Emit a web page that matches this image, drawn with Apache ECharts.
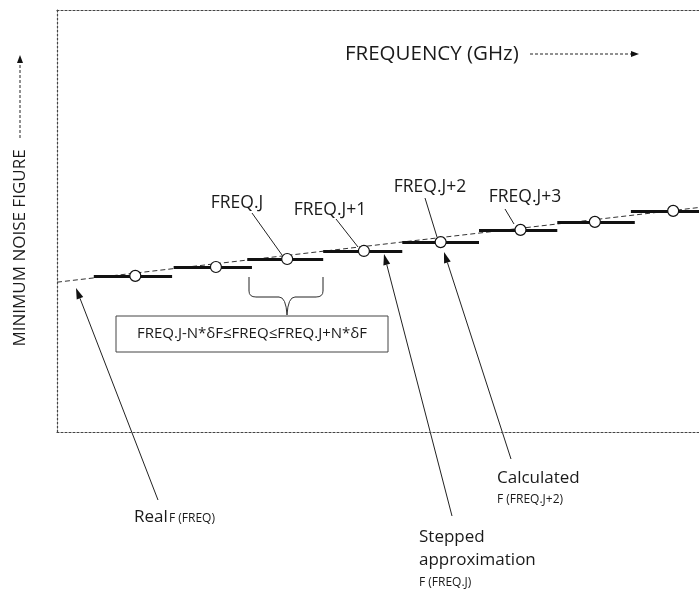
<!DOCTYPE html>
<html><head><meta charset="utf-8">
<script src="https://cdn.jsdelivr.net/npm/echarts@6/dist/echarts.min.js"></script>
<style>html,body{margin:0;padding:0;background:#fff;overflow:hidden}#c{width:699px;height:589px}</style>
</head><body><div id="c"></div>
<script>
// Stepped approximation: centre frequency of each step (index units) and its noise figure value
const stepCenters = [1.00, 2.03, 2.94, 3.92, 4.90, 5.92, 6.87, 7.87];
const stepValues  = [3.70, 3.91, 4.10, 4.29, 4.50, 4.79, 4.98, 5.24];
const stepStarts  = [0.47, 1.49, 2.43, 3.40, 4.41, 5.39, 6.39, 7.33];
const stepEnds    = [1.47, 2.49, 3.40, 4.41, 5.39, 6.39, 7.38, 8.30];
// Real F(FREQ) dashed line
const realFreq   = [0.00, 8.20];
const realValues = [3.55, 5.32];

const FONT = 'Open Sans';
const chart = echarts.init(document.getElementById('c'), null, {renderer: 'canvas'});

const stepLines = stepStarts.map((s, i) => ({coords: [[s, stepValues[i]], [stepEnds[i], stepValues[i]]]}));

function arrow(x1, y1, x2, y2, opts) {
  opts = opts || {};
  const len = opts.head || 9, w = opts.w || 3.5;
  const dx = x2 - x1, dy = y2 - y1, L = Math.hypot(dx, dy);
  const ux = dx / L, uy = dy / L;
  const bx = x2 - ux * len, by = y2 - uy * len;
  return [{
    type: 'line', silent: true,
    shape: {x1: x1, y1: y1, x2: bx, y2: by},
    style: {stroke: '#222', lineWidth: opts.lw || 1, lineDash: opts.dash || null}
  }, {
    type: 'polygon', silent: true,
    shape: {points: [[x2, y2], [bx - uy * w, by + ux * w], [bx + uy * w, by - ux * w]]},
    style: {fill: '#111'}
  }];
}
function seg(x1, y1, x2, y2, lw) {
  return {type: 'line', silent: true, shape: {x1, y1, x2, y2}, style: {stroke: '#222', lineWidth: lw || 1}};
}
function curve(x1, y1, cx, cy, x2, y2) {
  return {type: 'bezierCurve', silent: true, shape: {x1, y1, x2, y2, cpx1: cx, cpy1: cy},
          style: {stroke: '#333', lineWidth: 1, fill: null}};
}
function txt(x, y, t, size, align) {
  return {type: 'text', silent: true, style: {
    x: x, y: y, text: t, fill: '#1a1a1a', font: size + 'px "' + FONT + '"',
    textAlign: align || 'left', textVerticalAlign: 'middle'
  }};
}

const graphics = [].concat(
  // axis titles
  [txt(345, 54, 'FREQUENCY (GHz)', 20.5, 'left')],
  arrow(530, 54, 639, 54, {dash: [3, 2], head: 8, w: 3}),
  [{type: 'text', silent: true, x: 20, y: 248, rotation: Math.PI / 2,
    style: {x: 0, y: 0, text: 'MINIMUM NOISE FIGURE', fill: '#1a1a1a', font: '17px "' + FONT + '"',
            textAlign: 'center', textVerticalAlign: 'middle'}}],
  arrow(20, 138, 20, 55, {dash: [3, 2], head: 8, w: 3}),
  // step labels with leader lines
  [txt(237, 203, 'FREQ.J', 17.5, 'center'),
   seg(252, 213, 282, 255),
   txt(330, 210, 'FREQ.J+1', 17.5, 'center'),
   seg(336, 219, 358, 247),
   txt(430, 187, 'FREQ.J+2', 17.5, 'center'),
   seg(425, 198, 437, 237),
   txt(525, 197, 'FREQ.J+3', 17.5, 'center'),
   seg(505, 209, 514, 224)],
  // brace
  [seg(249, 277, 249, 291, 1), curve(249, 291, 249, 297, 256, 297), seg(256, 297, 279, 297),
   curve(279, 297, 286, 297, 287, 315),
   seg(323, 277, 323, 291, 1), curve(323, 291, 323, 297, 316, 297), seg(316, 297, 295, 297),
   curve(295, 297, 288, 297, 287, 315)],
  // range box
  [{type: 'rect', silent: true, shape: {x: 116, y: 316, width: 272, height: 36},
    style: {stroke: '#444', lineWidth: 1, fill: '#fff'}},
   txt(252, 334, 'FREQ.J-N*δF≤FREQ≤FREQ.J+N*δF', 15, 'center')],
  // pointer arrows
  arrow(158, 500, 76, 288, {head: 11, w: 3.5}),
  arrow(452, 516, 384, 254, {head: 11, w: 3.5}),
  arrow(511, 459, 444, 252, {head: 11, w: 3.5}),
  // bottom labels
  [txt(134, 517, 'Real', 17, 'left'),
   txt(169, 519, 'F (FREQ)', 12, 'left'),
   txt(497, 478, 'Calculated', 17, 'left'),
   txt(497, 500, 'F (FREQ.J+2)', 12, 'left'),
   txt(419, 537, 'Stepped', 17, 'left'),
   txt(419, 560, 'approximation', 17, 'left'),
   txt(419, 583, 'F (FREQ.J)', 12, 'left')]
);

const frameLine = {show: true, lineStyle: {color: '#444', width: 1.2, type: [2, 2]}};
const bareAxis = {axisTick: {show: false}, axisLabel: {show: false}, splitLine: {show: false}};

chart.setOption({
  animation: false,
  backgroundColor: '#fff',
  grid: {left: 57, top: 10, right: 0, bottom: 157, show: false},
  xAxis: [
    Object.assign({type: 'value', min: 0, max: 8.2, position: 'bottom', axisLine: frameLine}, bareAxis),
    Object.assign({type: 'value', min: 0, max: 8.2, position: 'top', axisLine: frameLine}, bareAxis)
  ],
  yAxis: Object.assign({type: 'value', min: 0, max: 10, position: 'left', axisLine: frameLine}, bareAxis),
  series: [
    {type: 'line', data: realFreq.map((f, i) => [f, realValues[i]]), symbol: 'none',
     lineStyle: {color: '#333', width: 1, type: [5, 3]}, z: 2, silent: true},
    {type: 'lines', coordinateSystem: 'cartesian2d', data: stepLines,
     lineStyle: {color: '#111', width: 3, opacity: 1}, z: 3, silent: true},
    {type: 'scatter', data: stepCenters.map((f, i) => [f, stepValues[i]]), symbol: 'circle', symbolSize: 11,
     itemStyle: {color: '#fff', borderColor: '#111', borderWidth: 1.2, opacity: 1}, z: 4, silent: true}
  ],
  graphic: graphics
});
</script></body></html>
